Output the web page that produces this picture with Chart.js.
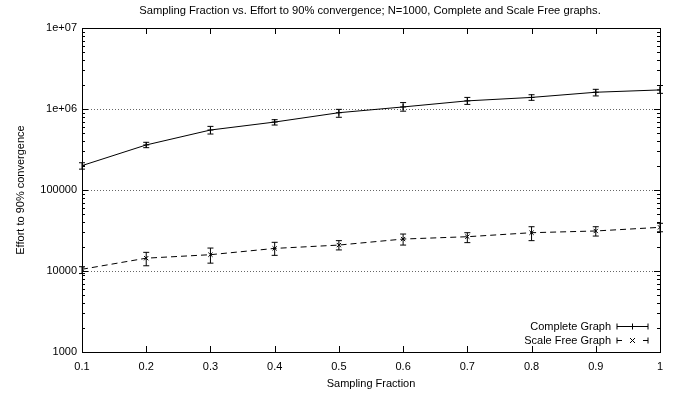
<!DOCTYPE html>
<html>
<head>
<meta charset="utf-8">
<script src="https://cdn.jsdelivr.net/npm/chart.js@4"></script>
<style>
html,body{margin:0;padding:0;background:#fff;}
canvas{display:block;}
</style>
</head>
<body>
<canvas id="c" width="683" height="399"></canvas>
<script>
const xValues = [0.1, 0.2, 0.3, 0.4, 0.5, 0.6, 0.7, 0.8, 0.9, 1.0];
const completeY    = [200000, 360000, 550000, 690000, 900000, 1060000, 1260000, 1390000, 1610000, 1720000];
const completeLow  = [181000, 333000, 491000, 634000, 790000, 940000, 1140000, 1280000, 1450000, 1560000];
const completeHigh = [217000, 388000, 610000, 738000, 990000, 1200000, 1390000, 1500000, 1750000, 1950000];
const scaleFreeY    = [10500, 14400, 15900, 19000, 20900, 24800, 26500, 29700, 31200, 34600];
const scaleFreeLow  = [9300, 11600, 12500, 15600, 18200, 20900, 22400, 23700, 27000, 30500];
const scaleFreeHigh = [11300, 17000, 19200, 22600, 23700, 28600, 29700, 35200, 35200, 38800];
const seriesNames = ['Complete Graph', 'Scale Free Graph'];
const titleText = 'Sampling Fraction vs. Effort to 90% convergence; N=1000, Complete and Scale Free graphs.';
const xTitle = 'Sampling Fraction';
const yTitle = 'Effort to 90% convergence';
const yMajorTicks = [1000, 10000, 100000, 1000000, 10000000];
const yTickLabels = ['1000', '10000', '100000', '1e+06', '1e+07'];
const gridValues = [10000, 100000, 1000000];

const FONT = "'Liberation Sans', Arial, Helvetica, sans-serif";
Chart.defaults.font.family = FONT;
Chart.defaults.font.size = 11;
Chart.defaults.color = '#000';

function pts(ys){ return xValues.map((x,i)=>({x:x, y:ys[i]})); }

const errSets = [
  {low: completeLow, high: completeHigh},
  {low: scaleFreeLow, high: scaleFreeHigh}
];

function drawMarker(ctx, style, x, y, r){
  ctx.beginPath();
  if(style==='cross'){
    ctx.moveTo(x-r,y); ctx.lineTo(x+r,y);
    ctx.moveTo(x,y-r); ctx.lineTo(x,y+r);
  } else {
    ctx.moveTo(x-r,y-r); ctx.lineTo(x+r,y+r);
    ctx.moveTo(x-r,y+r); ctx.lineTo(x+r,y-r);
  }
  ctx.stroke();
}

const gnuplotPlugin = {
  id: 'gnuplot',
  beforeDatasetsDraw(chart){
    const ctx = chart.ctx, a = chart.chartArea, ys = chart.scales.y;
    ctx.save();
    ctx.strokeStyle = '#666';
    ctx.lineWidth = 1;
    ctx.setLineDash([1,2]);
    gridValues.forEach(v=>{
      const py = Math.round(ys.getPixelForValue(v))+0.5;
      ctx.beginPath(); ctx.moveTo(a.left, py); ctx.lineTo(a.right, py); ctx.stroke();
    });
    ctx.restore();
  },
  afterDatasetsDraw(chart){
    const ctx = chart.ctx, a = chart.chartArea, xs = chart.scales.x, ys = chart.scales.y;
    ctx.save();
    ctx.strokeStyle = '#000';
    ctx.lineWidth = 1;
    ctx.setLineDash([]);
    // error bars
    errSets.forEach(es=>{
      xValues.forEach((xv,i)=>{
        const px = xs.getPixelForValue(xv);
        const pl = ys.getPixelForValue(es.low[i]);
        const ph = ys.getPixelForValue(es.high[i]);
        ctx.beginPath();
        ctx.moveTo(px, pl); ctx.lineTo(px, ph);
        ctx.moveTo(px-3, pl); ctx.lineTo(px+3, pl);
        ctx.moveTo(px-3, ph); ctx.lineTo(px+3, ph);
        ctx.stroke();
      });
    });
    // frame
    ctx.strokeRect(Math.round(a.left)+0.5, Math.round(a.top)+0.5, Math.round(a.right-a.left), Math.round(a.bottom-a.top));
    // x ticks
    xValues.forEach(xv=>{
      const px = Math.round(xs.getPixelForValue(xv))+0.5;
      ctx.beginPath();
      ctx.moveTo(px, a.bottom); ctx.lineTo(px, a.bottom-6);
      ctx.moveTo(px, a.top); ctx.lineTo(px, a.top+6);
      ctx.stroke();
    });
    // y ticks
    for(let d=1000; d<=10000000; d*=10){
      for(let m=1; m<=9; m++){
        const v = d*m;
        if(v>10000000) break;
        const py = Math.round(ys.getPixelForValue(v))+0.5;
        const len = m===1 ? 6 : 3;
        ctx.beginPath();
        ctx.moveTo(a.left, py); ctx.lineTo(a.left+len, py);
        ctx.moveTo(a.right, py); ctx.lineTo(a.right-len, py);
        ctx.stroke();
      }
    }
    // legend
    ctx.fillStyle = '#000';
    ctx.font = '11px ' + FONT;
    ctx.textAlign = 'right';
    ctx.textBaseline = 'middle';
    const lx0 = 617, lx1 = 648, lxc = (lx0+lx1)/2;
    const ly = [326.5, 340.5];
    ctx.fillText(seriesNames[0], 611, ly[0]);
    ctx.fillText(seriesNames[1], 611, ly[1]);
    ctx.beginPath();
    ctx.moveTo(lx0, ly[0]); ctx.lineTo(lx1, ly[0]);
    ctx.moveTo(lx0, ly[0]-3); ctx.lineTo(lx0, ly[0]+3);
    ctx.moveTo(lx1, ly[0]-3); ctx.lineTo(lx1, ly[0]+3);
    ctx.stroke();
    drawMarker(ctx, 'cross', lxc, ly[0], 3);
    ctx.beginPath();
    ctx.moveTo(lx0, ly[1]); ctx.lineTo(lx0+5, ly[1]);
    ctx.moveTo(lx1-5, ly[1]); ctx.lineTo(lx1, ly[1]);
    ctx.moveTo(lx0, ly[1]-3); ctx.lineTo(lx0, ly[1]+3);
    ctx.moveTo(lx1, ly[1]-3); ctx.lineTo(lx1, ly[1]+3);
    ctx.stroke();
    drawMarker(ctx, 'crossRot', lxc, ly[1], 2.5);
    // titles
    ctx.textAlign = 'center';
    ctx.font = '11.2px ' + FONT;
    ctx.fillText(titleText, 370, 11);
    ctx.font = '11px ' + FONT;
    ctx.fillText(xTitle, (a.left+a.right)/2, 384);
    ctx.translate(21, 190);
    ctx.rotate(-Math.PI/2);
    ctx.fillText(yTitle, 0, 0);
    ctx.restore();
  }
};

new Chart(document.getElementById('c'), {
  type: 'line',
  data: {
    datasets: [
      {
        label: seriesNames[0],
        data: pts(completeY),
        borderColor: '#000',
        borderWidth: 1,
        pointStyle: 'cross',
        pointRadius: 3,
        pointBorderColor: '#000',
        pointBorderWidth: 1,
        tension: 0,
        fill: false
      },
      {
        label: seriesNames[1],
        data: pts(scaleFreeY),
        borderColor: '#000',
        borderWidth: 1,
        borderDash: [6,4],
        pointStyle: 'crossRot',
        pointRadius: 3,
        pointBorderColor: '#000',
        pointBorderWidth: 1,
        tension: 0,
        fill: false
      }
    ]
  },
  options: {
    responsive: false,
    devicePixelRatio: 1,
    animation: false,
    layout: { padding: { top: 28, right: 23, left: 0, bottom: 0 } },
    plugins: { legend: { display: false }, title: { display: false }, tooltip: { enabled: false } },
    scales: {
      x: {
        type: 'linear',
        min: 0.1, max: 1,
        grid: { display: false, drawTicks: false },
        border: { display: false },
        ticks: {
          stepSize: 0.1,
          padding: 8,
          autoSkip: false,
          maxRotation: 0,
          callback: v => (+v.toFixed(1)).toString()
        },
        afterFit: s => { s.height = 47; }
      },
      y: {
        type: 'logarithmic',
        min: 1000, max: 10000000,
        grid: { display: false, drawTicks: false },
        border: { display: false },
        ticks: {
          padding: 5,
          autoSkip: false,
          callback: v => { const i = yMajorTicks.indexOf(v); return i>=0 ? yTickLabels[i] : ''; }
        },
        afterFit: s => { s.width = 82; }
      }
    }
  },
  plugins: [gnuplotPlugin]
});
</script>
</body>
</html>
